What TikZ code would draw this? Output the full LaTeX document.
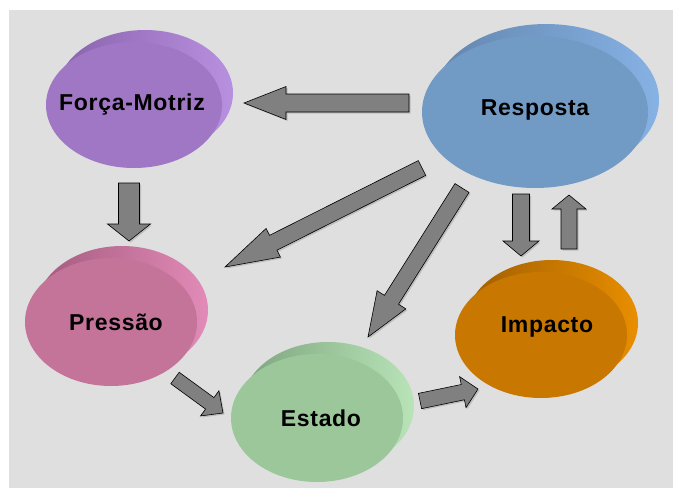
\documentclass[tikz,border=0pt]{standalone}
\usepackage{fontspec}
\setmainfont{Liberation Sans}
\usetikzlibrary{shapes.geometric,calc,shadows}

\definecolor{bggray}{HTML}{DFDFDF}
\definecolor{arrowgray}{HTML}{808080}
\definecolor{fmfront}{HTML}{A077C4}
\definecolor{fmdark}{HTML}{8962AC}
\definecolor{fmlight}{HTML}{B890E0}
\definecolor{rsfront}{HTML}{719BC5}
\definecolor{rsdark}{HTML}{6385AE}
\definecolor{rslight}{HTML}{86B2E4}
\definecolor{prfront}{HTML}{C47399}
\definecolor{prdark}{HTML}{A35A7D}
\definecolor{prlight}{HTML}{E28BB8}
\definecolor{esfront}{HTML}{9BC79B}
\definecolor{esdark}{HTML}{7EA47E}
\definecolor{eslight}{HTML}{B8E4B8}
\definecolor{imfront}{HTML}{C87800}
\definecolor{imdark}{HTML}{A05E00}
\definecolor{imlight}{HTML}{E88E00}

% block arrow: tail, tip, shaft half width, head half width, head length
\newcommand\fatarrow[5]{%
  \coordinate (fa) at ($(#2)!#5!(#1)$);
  \draw[blockarrow] ($(#1)!#3!90:(#2)$) -- ($(fa)!#3!90:(#2)$)
    -- ($(fa)!#4!90:(#2)$) -- (#2) -- ($(fa)!#4!-90:(#2)$)
    -- ($(fa)!#3!-90:(#2)$) -- ($(#1)!#3!-90:(#2)$) -- cycle;}

\begin{document}
\begin{tikzpicture}[x=1pt, y=-1pt,
  disc/.style={ellipse, inner sep=0pt, fill=#1front,
    preaction={left color=#1dark, right color=#1light,
      transform canvas={shift={(11pt,12pt)}}}},
  disctext/.style={font=\bfseries\fontsize{23}{26}\selectfont\addfontfeature{LetterSpace=3}},
  blockarrow/.style={fill=arrowgray, draw=black, line width=0.6pt,
    drop shadow={shadow xshift=1.5pt, shadow yshift=-1.5pt, opacity=0.35}}]
  \useasboundingbox (0,0) rectangle (673,488);
  \fill[white] (0,0) rectangle (673,488);
  \fill[bggray] (9,10) rectangle (673,488);

  \node[disc=fm, minimum width=176pt, minimum height=126pt,
    label={[disctext, xshift=-2pt]center:Força-Motriz}] (forca) at (134,105) {};
  \node[disc=rs, minimum width=226pt, minimum height=152pt,
    label={[disctext, yshift=2pt]center:Resposta}] (resposta) at (535,112) {};
  \node[disc=pr, minimum width=172pt, minimum height=128pt,
    label={[disctext, xshift=5pt]center:Pressão}] (pressao) at (111,322) {};
  \node[disc=es, minimum width=172pt, minimum height=128pt,
    label={[disctext, xshift=4pt]center:Estado}] (estado) at (317,418) {};
  \node[disc=im, minimum width=172pt, minimum height=126pt,
    label={[disctext, xshift=6pt, yshift=8pt]center:Impacto}] (impacto) at (541,335) {};

  \coordinate (rf-a) at (409,103);
  \coordinate (rf-b) at (244,103);
  \coordinate (fp-a) at (129,183);
  \coordinate (fp-b) at (129,241);
  \coordinate (rp-a) at (422,168);
  \coordinate (rp-b) at (225,267);
  \coordinate (re-a) at (462,188);
  \coordinate (re-b) at (368,337);
  \coordinate (ri-a) at (521,194);
  \coordinate (ri-b) at (521,256);
  \coordinate (ir-a) at (569,249);
  \coordinate (ir-b) at (569,195);
  \coordinate (pe-a) at (175,378);
  \coordinate (pe-b) at (223,413);
  \coordinate (ei-a) at (420,401);
  \coordinate (ei-b) at (478,389);

  \fatarrow{rf-a}{rf-b}{9pt}{16.5pt}{42pt}
  \fatarrow{fp-a}{fp-b}{10.5pt}{21.5pt}{17pt}
  \fatarrow{rp-a}{rp-b}{8.3pt}{16pt}{54pt}
  \fatarrow{re-a}{re-b}{8.3pt}{17pt}{44pt}
  \fatarrow{ri-a}{ri-b}{8.5pt}{18pt}{15pt}
  \fatarrow{ir-a}{ir-b}{8pt}{17pt}{14pt}
  \fatarrow{pe-a}{pe-b}{7.1pt}{15.6pt}{16.4pt}
  \fatarrow{ei-a}{ei-b}{7.8pt}{15.8pt}{15.5pt}
\end{tikzpicture}
\end{document}
